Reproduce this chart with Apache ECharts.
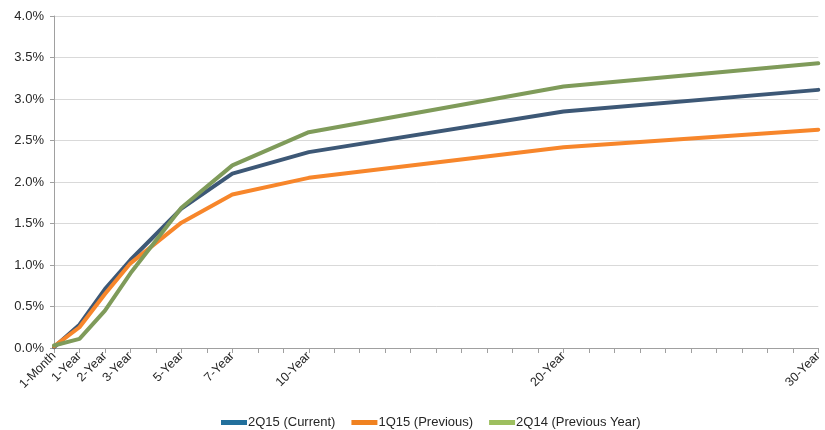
<!DOCTYPE html>
<html>
<head>
<meta charset="utf-8">
<script src="https://cdn.jsdelivr.net/npm/echarts@6/dist/echarts.min.js"></script>
<style>
  html, body { margin: 0; padding: 0; background: #ffffff; }
  #chart { width: 825px; height: 430px; }
</style>
</head>
<body>
<div id="chart"></div>
<script>
// Maturity slots on the horizontal axis (one slot per year, 1-Month at slot 0)
const maturities = ['1-Month', '1-Year', '2-Year', '3-Year', '5-Year', '7-Year', '10-Year', '20-Year', '30-Year'];
const maturitySlots = [0, 1, 2, 3, 5, 7, 10, 20, 30];

// Treasury yields, percent
const current2Q15 = [0.01, 0.28, 0.71, 1.06, 1.68, 2.10, 2.36, 2.85, 3.11];
const previous1Q15 = [0.02, 0.25, 0.65, 1.02, 1.51, 1.85, 2.05, 2.42, 2.63];
const previousYear2Q14 = [0.03, 0.11, 0.45, 0.90, 1.69, 2.20, 2.60, 3.15, 3.43];

const seriesNames = ['2Q15 (Current)', '1Q15 (Previous)', '2Q14 (Previous Year)'];
const lineColors = ['#3d5876', '#f7862b', '#7f9b5a'];
const legendColors = ['#22709c', '#f08221', '#9dbf5f'];

const yTicks = [0, 0.5, 1.0, 1.5, 2.0, 2.5, 3.0, 3.5, 4.0];

const labelBySlot = {};
maturitySlots.forEach((s, i) => { labelBySlot[s] = maturities[i]; });

function pairs(values) {
  return values.map((v, i) => [maturitySlots[i], v]);
}

const chart = echarts.init(document.getElementById('chart'), null, { renderer: 'canvas' });
const font = 'Liberation Sans, Arial, sans-serif';

chart.setOption({
  animation: false,
  backgroundColor: '#ffffff',
  grid: { left: 54, right: 6, top: 16, bottom: 82, containLabel: false },
  legend: {
    top: 411,
    left: 216,
    itemWidth: 26,
    itemHeight: 5,
    itemGap: 16,
    icon: 'rect',
    textStyle: { fontFamily: font, fontSize: 13, color: '#262626', padding: [0, 0, 0, -4] },
    data: seriesNames.map((n, i) => ({ name: n, itemStyle: { color: legendColors[i] } }))
  },
  xAxis: {
    type: 'value',
    min: 0,
    max: 30,
    interval: 1,
    axisLine: { show: true, lineStyle: { color: '#a0a0a0', width: 1 } },
    axisTick: { show: true, length: 5, lineStyle: { color: '#a0a0a0' } },
    splitLine: { show: false },
    axisLabel: {
      rotate: 45,
      margin: 6,
      fontFamily: font,
      fontSize: 12.5,
      color: '#262626',
      showMinLabel: true,
      showMaxLabel: true,
      formatter: v => labelBySlot[v] || ''
    }
  },
  yAxis: {
    type: 'value',
    min: yTicks[0],
    max: yTicks[yTicks.length - 1],
    interval: 0.5,
    axisLine: { show: true, lineStyle: { color: '#a0a0a0', width: 1 } },
    axisTick: { show: true, length: 4, lineStyle: { color: '#a0a0a0' } },
    splitLine: { show: true, lineStyle: { color: '#d9d9d9', width: 1 } },
    axisLabel: {
      margin: 10,
      fontFamily: font,
      fontSize: 13,
      color: '#262626',
      formatter: v => v.toFixed(1) + '%'
    }
  },
  series: [current2Q15, previous1Q15, previousYear2Q14].map((vals, i) => ({
    name: seriesNames[i],
    type: 'line',
    data: pairs(vals),
    showSymbol: false,
    symbol: 'none',
    color: lineColors[i],
    lineStyle: { color: lineColors[i], width: 4, cap: 'round', join: 'round' },
    z: 2 + i
  }))
});
</script>
</body>
</html>
